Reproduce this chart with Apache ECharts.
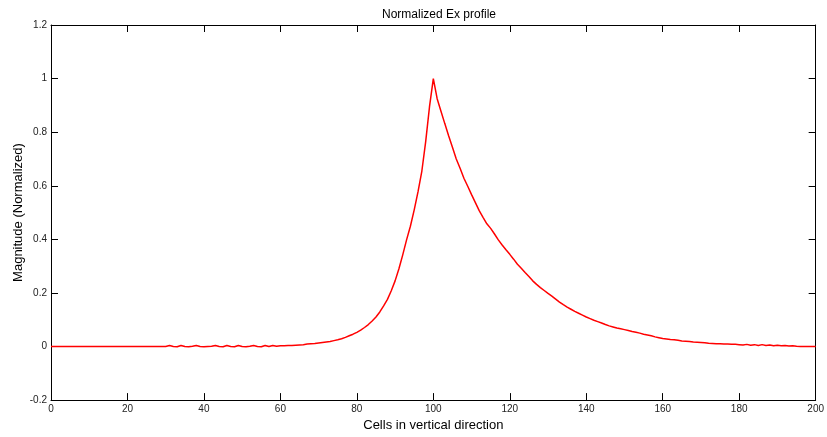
<!DOCTYPE html>
<html>
<head>
<meta charset="utf-8">
<script src="https://cdn.jsdelivr.net/npm/echarts@6/dist/echarts.min.js"></script>
<style>
  html, body { margin: 0; padding: 0; background: #fff; }
  #chart { width: 827px; height: 437px; }
</style>
</head>
<body>
<div id="chart"></div>
<script>
// Normalized Ex field magnitude sampled at each cell (0..200)
const chartTitle = 'Normalized Ex profile';
const xAxisLabel = 'Cells in vertical direction';
const yAxisLabel = 'Magnitude (Normalized)';

const xTicks = { min: 0, max: 200, step: 20 };
const yTicks = { min: -0.2, max: 1.2, step: 0.2 };

// cells 0..29: flat
const quietCells = [
  0, 0, 0, 0, 0, 0, 0, 0, 0, 0,
  0, 0, 0, 0, 0, 0, 0, 0, 0, 0,
  0, 0, 0, 0, 0, 0, 0, 0, 0, 0
];
// cells 30..59: small ripple
const rippleCells = [
  0.000, 0.004, 0.000, -0.001, 0.004, 0.000, -0.001, 0.001, 0.004, 0.000,
  -0.001, 0.000, 0.001, 0.004, 0.000, -0.001, 0.004, 0.000, -0.001, 0.004,
  0.000, -0.001, 0.001, 0.004, 0.000, -0.001, 0.004, 0.000, 0.004, 0.001
];
// cells 60..99: rising edge
const riseCells = [
  0.003, 0.003, 0.004, 0.004, 0.005, 0.006, 0.007, 0.009, 0.010, 0.011,
  0.013, 0.015, 0.017, 0.019, 0.022, 0.025, 0.029, 0.034, 0.040, 0.046,
  0.053, 0.061, 0.071, 0.082, 0.095, 0.110, 0.129, 0.152, 0.176, 0.208,
  0.245, 0.290, 0.342, 0.398, 0.449, 0.510, 0.578, 0.655, 0.765, 0.895
];
// cells 100..159: peak and decay
const decayCells = [
  1.000, 0.925, 0.878, 0.832, 0.787, 0.744, 0.700, 0.665, 0.628, 0.598,
  0.567, 0.537, 0.507, 0.482, 0.458, 0.441, 0.420, 0.398, 0.379, 0.361,
  0.344, 0.326, 0.307, 0.292, 0.276, 0.261, 0.245, 0.232, 0.220, 0.209,
  0.198, 0.188, 0.177, 0.166, 0.156, 0.147, 0.139, 0.131, 0.124, 0.117,
  0.110, 0.104, 0.098, 0.093, 0.088, 0.082, 0.077, 0.073, 0.069, 0.066,
  0.063, 0.060, 0.056, 0.053, 0.050, 0.046, 0.043, 0.040, 0.036, 0.033
];
// cells 160..200: tail
const tailCells = [
  0.030, 0.028, 0.026, 0.025, 0.023, 0.021, 0.020, 0.019, 0.017, 0.016,
  0.015, 0.014, 0.012, 0.011, 0.010, 0.010, 0.009, 0.009, 0.008, 0.008,
  0.007, 0.006, 0.008, 0.005, 0.007, 0.004, 0.007, 0.004, 0.006, 0.003,
  0.005, 0.003, 0.004, 0.002, 0.003, 0.001, 0.000, 0.000, 0.000, 0.000,
  0.000
];

const profile = [].concat(quietCells, rippleCells, riseCells, decayCells, tailCells);
const points = profile.map((v, cell) => [cell, v]);

const fontFamily = 'Liberation Sans, Arial, Helvetica, sans-serif';
const axisColor = '#000';
const labelStyle = { color: '#222', fontSize: 10, fontFamily };

function frameAxis(extra) {
  return Object.assign({
    type: 'value',
    axisLine: { show: true, onZero: false, lineStyle: { color: axisColor, width: 1 } },
    axisTick: { show: true, inside: true, length: 7, lineStyle: { color: axisColor, width: 1 } },
    splitLine: { show: false },
    axisLabel: { show: false }
  }, extra);
}

const chart = echarts.init(document.getElementById('chart'), null, { renderer: 'canvas' });
chart.setOption({
  animation: false,
  backgroundColor: '#fff',
  title: {
    text: chartTitle,
    left: 434, top: 4, textAlign: 'center',
    textStyle: { fontSize: 12, fontWeight: 'normal', color: '#000', fontFamily }
  },
  grid: { left: 51, right: 9, top: 25, bottom: 36 },
  xAxis: [
    frameAxis({
      position: 'bottom',
      min: xTicks.min, max: xTicks.max, interval: xTicks.step,
      axisLabel: Object.assign({ show: true, margin: 4 }, labelStyle),
      name: xAxisLabel, nameLocation: 'middle', nameGap: 16,
      nameTextStyle: { fontSize: 13, color: '#000', fontFamily }
    }),
    frameAxis({
      position: 'top',
      min: xTicks.min, max: xTicks.max, interval: xTicks.step
    })
  ],
  yAxis: [
    frameAxis({
      position: 'left',
      min: yTicks.min, max: yTicks.max, interval: yTicks.step,
      axisLabel: Object.assign({ show: true, margin: 4 }, labelStyle),
      name: yAxisLabel, nameLocation: 'middle', nameGap: 26,
      nameMoveOverlap: false,
      nameTextStyle: { fontSize: 13, color: '#000', fontFamily }
    }),
    frameAxis({
      position: 'right',
      min: yTicks.min, max: yTicks.max, interval: yTicks.step
    })
  ],
  series: [{
    type: 'line',
    data: points,
    xAxisIndex: 0,
    yAxisIndex: 0,
    showSymbol: false,
    lineStyle: { color: '#ff0000', width: 1.5 },
    itemStyle: { color: '#ff0000' }
  }]
});
</script>
</body>
</html>
